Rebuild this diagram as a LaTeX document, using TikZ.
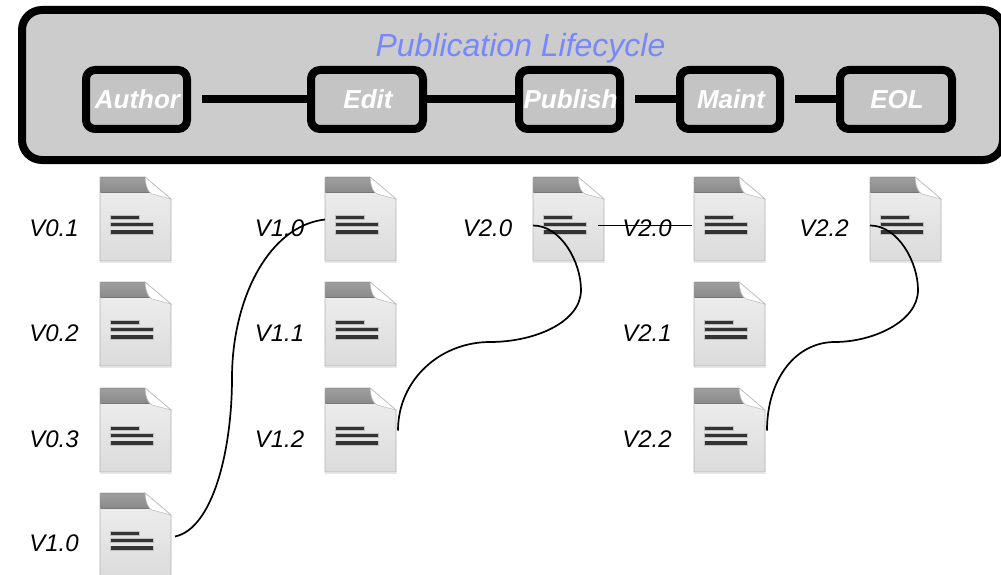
\documentclass[tikz,border=0pt]{standalone}
\usepackage{fontspec}
\setmainfont{Liberation Sans}
\usetikzlibrary{calc}
\definecolor{panelgray}{HTML}{CCCCCC}
\definecolor{stagegray}{HTML}{C4C4C4}
\definecolor{titleblue}{HTML}{7788FF}
\newcommand{\stagetext}[1]{\raisebox{-1.5pt}{\hspace{2pt}#1}}
\tikzset{
  panelbox/.style={draw=black,line width=8pt,fill=panelgray,rounded corners=20pt},
  stagebox/.style={draw=black,line width=8pt,fill=stagegray,rounded corners=9pt,inner sep=0pt,
    minimum height=59pt,text=white,font=\fontsize{26}{26}\selectfont\bfseries\itshape},
  stagelink/.style={line width=8pt,draw=black},
  verlabel/.style={font=\fontsize{24}{24}\selectfont\itshape,inner sep=0pt,text=black},
  titletext/.style={font=\fontsize{32}{32}\selectfont\itshape,text=titleblue,inner sep=0pt},
  docnode/.style={inner sep=0pt,minimum width=71pt,minimum height=85pt,outer sep=0pt},
  curveline/.style={line width=1.7pt,draw=black}
}
\newcommand{\docicon}[3]{%
  \node[docnode,anchor=north west] (#1) at (#2,#3) {};
  \begin{scope}[shift={(#2,#3)}]
    \fill[black!18,opacity=.5] (0,85) rectangle (72,86);
    \path[draw=black!30,line width=.8pt,top color=black!6,bottom color=black!14]
      (0,0) -- (45,0) -- (71,22) -- (71,84) -- (0,84) -- cycle;
    \fill[top color=black!38,bottom color=black!46] (0.5,0.5) -- (45,0.5) -- (50,15.5) -- (0.5,15.5) -- cycle;
    \path[fill=white,draw=black!25,line width=.6pt] (45,0) -- (71,22) -- (52,17) .. controls (48,15) and (46,10) .. (45,0) -- cycle;
    \fill[black!25] (10,38.2) rectangle (40,43.2);
    \fill[black!25] (10,45.2) rectangle (54,50.2);
    \fill[black!25] (10,52.5) rectangle (54,57.5);
    \fill[black!80] (10.5,39) rectangle (38.5,42.4);
    \fill[black!80] (10.5,46) rectangle (52.5,49.4);
    \fill[black!80] (10.5,53.3) rectangle (52.5,56.7);
  \end{scope}
}
\begin{document}
\begin{tikzpicture}[x=1pt,y=-1pt]
  \useasboundingbox (0,0) rectangle (1001,575);
  \clip (0,0) rectangle (1001,575);
  \path[panelbox] (22,10) rectangle (1003,160);
  \node[titletext] (title) at (520.5,48) {Publication Lifecycle};
  \node[stagebox,minimum width=101pt] (author) at (136.5,99.5) {\stagetext{Author}};
  \node[stagebox,minimum width=112pt] (edit) at (367,99.5) {\stagetext{Edit}};
  \node[stagebox,minimum width=101pt] (publish) at (569.5,99.5) {\stagetext{Publish}};
  \node[stagebox,minimum width=100pt] (maint) at (730,99.5) {\stagetext{Maint}};
  \node[stagebox,minimum width=112pt] (eol) at (896,99.5) {\stagetext{EOL}};
  \draw[stagelink] ([xshift=11pt]author.east) -- (edit.west);
  \draw[stagelink] (edit.east) -- (publish.west);
  \draw[stagelink] ([xshift=11pt]publish.east) -- (maint.west);
  \draw[stagelink] ([xshift=11pt]maint.east) -- (eol.west);

  \docicon{a1}{100}{177}
  \docicon{a2}{100}{282}
  \docicon{a3}{100}{388}
  \docicon{a4}{100}{493}
  \docicon{b1}{325}{177}
  \docicon{b2}{325}{282}
  \docicon{b3}{325}{388}
  \docicon{c1}{533}{177}
  \docicon{d1}{694}{177}
  \docicon{d2}{694}{282}
  \docicon{d3}{694}{388}
  \docicon{e1}{870}{177}

  \node[verlabel] (la1) at (54,228) {V0.1};
  \node[verlabel] (la2) at (54,333) {V0.2};
  \node[verlabel] (la3) at (54,439) {V0.3};
  \node[verlabel] (la4) at (54,543) {V1.0};
  \node[verlabel] (lb1) at (279.5,228) {V1.0};
  \node[verlabel] (lb2) at (279.5,333) {V1.1};
  \node[verlabel] (lb3) at (279.5,439) {V1.2};
  \node[verlabel] (lc1) at (487.5,228) {V2.0};
  \node[verlabel] (ld1) at (647,228) {V2.0};
  \node[verlabel] (ld2) at (647,333) {V2.1};
  \node[verlabel] (ld3) at (647,439) {V2.2};
  \node[verlabel] (le1) at (824,228) {V2.2};

  \draw[curveline] ([xshift=4pt,yshift=-1pt]a4.east) .. controls +(38,-8) and (232,450) .. (232,378)
     .. controls (232,300) and (268,226) .. (b1.west);
  \draw[curveline] ([yshift=-6pt]c1.west) .. controls +(28,0) and (581,262) .. (581,290)
     .. controls (581,322) and (535,342) .. (490,342)
     .. controls (440,342) and (398,380) .. ([xshift=2pt]b3.east);
  \draw[curveline] ([xshift=-6pt,yshift=-6pt]c1.east) -- ([xshift=-2pt,yshift=-6pt]d1.west);
  \draw[curveline] ([yshift=-6pt]e1.west) .. controls +(28,0) and (918,262) .. (918,290)
     .. controls (918,322) and (872,342) .. (835,342)
     .. controls (795,342) and (767,380) .. ([xshift=2pt]d3.east);
\end{tikzpicture}
\end{document}
